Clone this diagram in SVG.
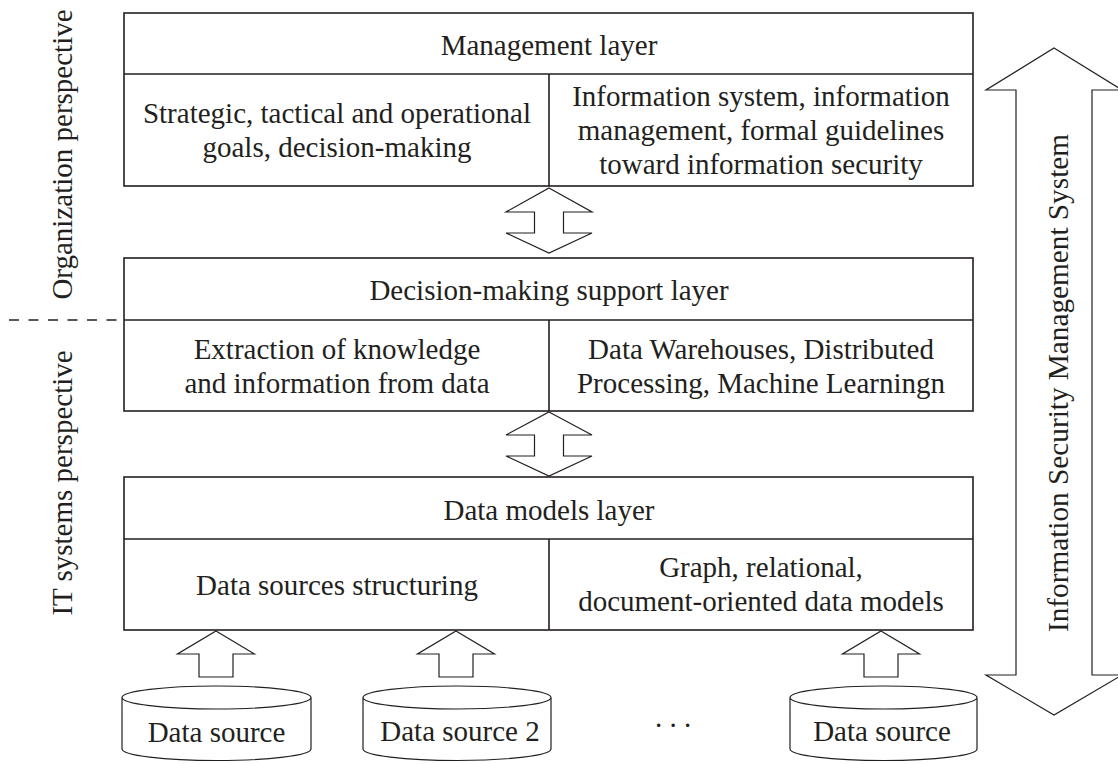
<svg xmlns="http://www.w3.org/2000/svg" width="1118" height="764" viewBox="0 0 1118 764">
<style>
.box{fill:#fff;stroke:#231f20;stroke-width:1.6}
.ln{stroke:#231f20;stroke-width:1.6;fill:none}
.arr{fill:#fff;stroke:#231f20;stroke-width:1.2;stroke-linejoin:miter}
.cyl{fill:#fff;stroke:#231f20;stroke-width:1.2}
text{font-family:"Liberation Serif","Times New Roman",serif;font-size:29px;fill:#231f20}
.c{text-anchor:middle}
</style>
<rect width="1118" height="764" fill="#fff"/>
<g id="perspectives">
<text class="c" transform="translate(72,154.5) rotate(-90)">Organization perspective</text>
<text class="c" transform="translate(72,483) rotate(-90)">IT systems perspective</text>
<line class="ln" x1="9" y1="320" x2="124" y2="320" stroke-dasharray="10 9.5" stroke-width="1.4"/>
</g>
<g id="management-layer">
<rect class="box" x="124" y="13" width="849" height="173"/>
<line class="ln" x1="124" y1="74" x2="973" y2="74"/>
<line class="ln" x1="549" y1="74" x2="549" y2="186"/>
<text class="c" x="549" y="55">Management layer</text>
<text class="c" x="337" y="123">Strategic, tactical and operational</text>
<text class="c" x="337" y="157">goals, decision-making</text>
<text class="c" x="761" y="106">Information system, information</text>
<text class="c" x="761" y="140">management, formal guidelines</text>
<text class="c" x="761" y="174">toward information security</text>
</g>
<g id="decision-layer">
<rect class="box" x="124" y="258" width="849" height="153"/>
<line class="ln" x1="124" y1="320" x2="973" y2="320"/>
<line class="ln" x1="549" y1="320" x2="549" y2="411"/>
<text class="c" x="549" y="300">Decision-making support layer</text>
<text class="c" x="337" y="359">Extraction of knowledge</text>
<text class="c" x="337" y="393">and information from data</text>
<text class="c" x="761" y="359">Data Warehouses, Distributed</text>
<text class="c" x="761" y="393">Processing, Machine Learningn</text>
</g>
<g id="data-models-layer">
<rect class="box" x="124" y="477" width="849" height="153"/>
<line class="ln" x1="124" y1="539" x2="973" y2="539"/>
<line class="ln" x1="549" y1="539" x2="549" y2="630"/>
<text class="c" x="549" y="520">Data models layer</text>
<text class="c" x="337" y="595">Data sources structuring</text>
<text class="c" x="761" y="577">Graph, relational,</text>
<text class="c" x="761" y="611">document-oriented data models</text>
</g>
<g id="source-1">
<path class="cyl" d="M122,697.5 L122,749 A94.5,11.5 0 0 0 311,749 L311,697.5 A94.5,11.5 0 0 0 122,697.5 A94.5,11.5 0 0 0 311,697.5"/>
<text class="c" x="216.5" y="742">Data source</text>
</g>
<g id="source-2">
<path class="cyl" d="M363,697.5 L363,749 A94,11.5 0 0 0 551,749 L551,697.5 A94,11.5 0 0 0 363,697.5 A94,11.5 0 0 0 551,697.5"/>
<text class="c" x="460" y="741">Data source 2</text>
</g>
<g id="ellipsis">
<text class="c" x="673" y="727">. . .</text>
</g>
<g id="source-n">
<path class="cyl" d="M790,697.5 L790,749 A93.5,11.5 0 0 0 977,749 L977,697.5 A93.5,11.5 0 0 0 790,697.5 A93.5,11.5 0 0 0 977,697.5"/>
<text class="c" x="882" y="741">Data source</text>
</g>
<g id="isms">
<polygon class="arr" points="1054,48 1122,90 1092,90 1092,675 1122,675 1054,715 986,675 1016,675 1016,90 986,90"/>
<text class="c" transform="translate(1068,383) rotate(-90)" font-size="31" textLength="498" lengthAdjust="spacingAndGlyphs">Information Security Management System</text>
</g>
<g id="connectors">
<polygon class="arr" points="549,188 592,212 563.5,212 563.5,233 592,233 549,253 506,233 534.5,233 534.5,212 506,212"/>
<polygon class="arr" points="549,412 592,435 563.5,435 563.5,456 592,456 549,476 506,456 534.5,456 534.5,435 506,435"/>
<polygon class="arr" points="216,631 254.5,654 233,654 233,677 199,677 199,654 177.5,654"/>
<polygon class="arr" points="456,631 494.5,654 473,654 473,677 439,677 439,654 417.5,654"/>
<polygon class="arr" points="881,631 919.5,654 898,654 898,677 864,677 864,654 842.5,654"/>
</g>
</svg>
